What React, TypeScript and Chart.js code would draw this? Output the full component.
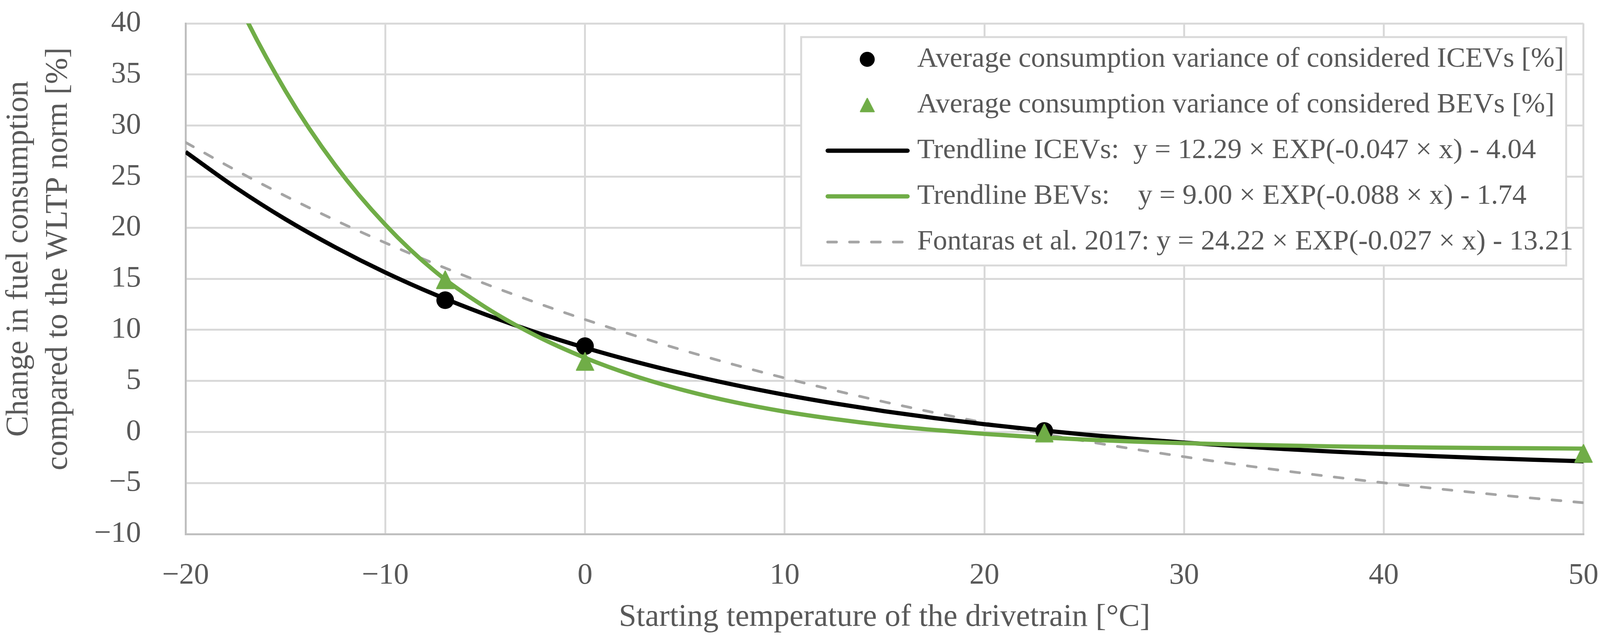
import React, { useEffect, useRef } from "react";
import { Chart, registerables } from "chart.js";

Chart.register(...registerables);

// axis ticks
const xTicks = [-20, -10, 0, 10, 20, 30, 40, 50];
const yTicks = [-10, -5, 0, 5, 10, 15, 20, 25, 30, 35, 40];

// measured averages
const icevTemps = [-7.0, 0.0, 23.0];
const icevVariance = [12.9, 8.4, 0.1];
const bevTemps = [-7.0, 0.0, 23.0, 50.0];
const bevVariance = [14.9, 6.9, -0.1, -2.1];

// trendlines, every 2.5 °C
const trendTemps = [
  -20, -17.5, -15, -12.5, -10, -7.5, -5, -2.5, 0, 2.5, 5, 7.5, 10, 12.5, 15,
  17.5, 20, 22.5, 25, 27.5, 30, 32.5, 35, 37.5, 40, 42.5, 45, 47.5, 50,
];
const icevTrend = [
  27.42, 23.94, 20.83, 18.08, 15.62, 13.44, 11.51, 9.78, 8.25, 6.89, 5.68, 4.6,
  3.64, 2.79, 2.03, 1.36, 0.76, 0.23, -0.25, -0.67, -1.04, -1.37, -1.67, -1.93,
  -2.16, -2.37, -2.56, -2.72, -2.87,
];
const bevTrend = [
  54.3, 42.6, 33.4, 26.1, 20.3, 15.7, 12.23, 9.47, 7.26, 5.48, 4.06, 2.91, 1.99,
  1.26, 0.66, 0.19, -0.19, -0.5, -0.74, -0.94, -1.1, -1.22, -1.33, -1.41, -1.47,
  -1.53, -1.57, -1.6, -1.63,
];
const fontarasTrend = [
  28.35, 25.64, 23.1, 20.73, 18.52, 16.45, 14.51, 12.7, 11.01, 9.43, 7.95, 6.57,
  5.28, 4.07, 2.94, 1.89, 0.9, -0.02, -0.88, -1.68, -2.43, -3.14, -3.8, -4.41,
  -4.98, -5.52, -6.02, -6.49, -6.93,
];

const seriesLabels = [
  "Average consumption variance of considered ICEVs [%]",
  "Average consumption variance of considered BEVs [%]",
  "Trendline ICEVs:  y = 12.29 \u00d7 EXP(-0.047 \u00d7 x) - 4.04",
  "Trendline BEVs:    y = 9.00 \u00d7 EXP(-0.088 \u00d7 x) - 1.74",
  "Fontaras et al. 2017: y = 24.22 \u00d7 EXP(-0.027 \u00d7 x) - 13.21",
];

const xTitle = "Starting temperature of the drivetrain [\u00b0C]";
const yTitle = ["Change in fuel consumption", "compared to the WLTP norm [%]"];

const FONT = '"Liberation Serif", "Times New Roman", serif';
const TEXT = "#595959";
const GREEN = "#70ad47";

// reference picture size and where its plot area sits
const REF_W = 4164;
const REF_H = 1647;
const AREA = { left: 483, top: 60, right: 4121, bottom: 1368 };

const fmt = (v: number) => (v < 0 ? "\u2212" + Math.abs(v) : String(v));

function makeTriangle(w: number, h: number, color: string, k: number) {
  const c = document.createElement("canvas");
  c.width = Math.round(w);
  c.height = Math.round(h);
  const ctx = c.getContext("2d")!;
  const p = 2 * k;
  ctx.fillStyle = color;
  ctx.strokeStyle = color;
  ctx.lineWidth = 3 * k;
  ctx.lineJoin = "round";
  ctx.beginPath();
  ctx.moveTo(c.width / 2, p);
  ctx.lineTo(c.width - p, c.height - p);
  ctx.lineTo(p, c.height - p);
  ctx.closePath();
  ctx.fill();
  ctx.stroke();
  return c;
}

const App: React.FC = () => {
  const chartRef = useRef<HTMLCanvasElement | null>(null);
  const chartInstance = useRef<Chart | null>(null);

  useEffect(() => {
    if (!chartRef.current) return;
    if (chartInstance.current) chartInstance.current.destroy();
    const ctx = chartRef.current.getContext("2d");
    if (!ctx) return;

    // the window may be narrower than the reference, so scale the layout to it
    const holder = chartRef.current.parentElement!;
    const kx = holder.clientWidth / REF_W;
    const ky = holder.clientHeight / REF_H;
    const k = kx;

    const plotTriangle = makeTriangle(49 * k, 50 * k, GREEN, k);
    const legendTriangle = makeTriangle(40 * k, 39 * k, GREEN, k);

    const toPoints = (xs: number[], ys: number[]) =>
      xs.map((x, i) => ({ x, y: ys[i] }));

    const border = { color: "#bfbfbf", width: 5 * k };
    const padding = {
      top: AREA.top * ky,
      right: (REF_W - AREA.right) * kx,
      bottom: 0,
      left: 0,
    };

    const yTitlePlugin = {
      id: "yTitleLines",
      afterDraw(chart: any) {
        const c = chart.ctx;
        const a = chart.chartArea;
        const cy = (a.top + a.bottom) / 2 - 51 * ky;
        c.save();
        c.font = `${82 * k}px ${FONT}`;
        c.fillStyle = TEXT;
        c.textAlign = "center";
        c.textBaseline = "middle";
        yTitle.forEach((line, i) => {
          c.save();
          c.translate((50 + i * 102) * kx, cy);
          c.rotate(-Math.PI / 2);
          c.fillText(line, 0, 0);
          c.restore();
        });
        c.restore();
      },
    };

    const legendBoxPlugin = {
      id: "legendBox",
      afterDraw(chart: any) {
        const c = chart.ctx;
        const a = chart.chartArea;
        const datasets = chart.data.datasets;
        const w = 1991 * kx;
        const rowH = 117 * ky;
        const left = a.right - 45 * kx - w;
        const top = a.top + 35 * ky;
        const h = rowH * datasets.length;
        c.save();
        c.fillStyle = "#ffffff";
        c.fillRect(left, top, w, h);
        c.strokeStyle = "#d9d9d9";
        c.lineWidth = 5 * k;
        c.strokeRect(left, top, w, h);
        datasets.forEach((ds: any, i: number) => {
          const y = top + 57 * ky + i * rowH;
          const mx = left + 172 * kx;
          if (ds.showLine) {
            c.beginPath();
            c.lineCap = "round";
            c.strokeStyle = ds.borderColor;
            c.lineWidth = ds.borderWidth;
            c.setLineDash(ds.borderDash || []);
            c.moveTo(left + 69 * kx, y);
            c.lineTo(left + 277 * kx, y);
            c.stroke();
            c.setLineDash([]);
          } else if (ds.legendMarker === "circle") {
            c.beginPath();
            c.fillStyle = ds.backgroundColor;
            c.arc(mx, y, 19.5 * k, 0, Math.PI * 2);
            c.fill();
          } else if (ds.legendMarker) {
            const m = ds.legendMarker;
            c.drawImage(m, mx - m.width / 2, y - m.height / 2);
          }
          c.fillStyle = TEXT;
          c.font = `${74 * k}px ${FONT}`;
          c.textAlign = "left";
          c.textBaseline = "middle";
          c.fillText(ds.label, left + 302 * kx, y);
        });
        c.restore();
      },
    };

    chartInstance.current = new Chart(ctx, {
      type: "scatter",
      data: {
        datasets: [
          {
            label: seriesLabels[0],
            data: toPoints(icevTemps, icevVariance),
            showLine: false,
            pointStyle: "circle",
            pointRadius: 23 * k,
            borderWidth: 0,
            backgroundColor: "#000000",
            borderColor: "#000000",
            clip: false,
            order: 1,
            legendMarker: "circle",
          },
          {
            label: seriesLabels[1],
            data: toPoints(bevTemps, bevVariance),
            showLine: false,
            pointStyle: plotTriangle,
            pointRadius: 24 * k,
            backgroundColor: GREEN,
            borderColor: GREEN,
            clip: false,
            order: 0,
            legendMarker: legendTriangle,
          },
          {
            label: seriesLabels[2],
            data: toPoints(trendTemps, icevTrend),
            showLine: true,
            borderColor: "#000000",
            borderWidth: 11 * k,
            pointRadius: 0,
            cubicInterpolationMode: "monotone",
            order: 3,
          },
          {
            label: seriesLabels[3],
            data: toPoints(trendTemps, bevTrend),
            showLine: true,
            borderColor: GREEN,
            borderWidth: 11 * k,
            pointRadius: 0,
            cubicInterpolationMode: "monotone",
            order: 2,
          },
          {
            label: seriesLabels[4],
            data: toPoints(trendTemps, fontarasTrend),
            showLine: true,
            borderColor: "#a5a5a5",
            borderWidth: 7 * k,
            borderDash: [23 * k, 34 * k],
            borderCapStyle: "round",
            pointRadius: 0,
            cubicInterpolationMode: "monotone",
            order: 4,
          },
        ] as any,
      },
      options: {
        animation: false,
        responsive: true,
        maintainAspectRatio: false,
        events: [],
        layout: { padding },
        plugins: {
          legend: { display: false },
          tooltip: { enabled: false },
        },
        scales: {
          x: {
            type: "linear",
            min: -20,
            max: 50,
            afterBuildTicks: (s: any) => {
              s.ticks = xTicks.map((v) => ({ value: v }));
            },
            afterFit: (s: any) => {
              s.height = s.chart.height - AREA.bottom * ky;
            },
            ticks: {
              padding: 3 * ky,
              color: TEXT,
              font: { family: FONT, size: 78 * k },
              callback: (v: any) => fmt(Number(v)),
            },
            grid: {
              color: "#d9d9d9",
              lineWidth: 5 * k,
              drawTicks: true,
              tickLength: 58 * ky,
              tickColor: "rgba(0,0,0,0)",
            },
            border,
            title: {
              display: true,
              text: xTitle,
              color: TEXT,
              font: { family: FONT, size: 82 * k, lineHeight: 1.2 },
              padding: { top: 0, bottom: 17 * ky },
            },
          },
          y: {
            type: "linear",
            min: -10,
            max: 40,
            afterBuildTicks: (s: any) => {
              s.ticks = yTicks.map((v) => ({ value: v }));
            },
            afterFit: (s: any) => {
              s.width = AREA.left * kx;
            },
            ticks: {
              padding: 3 * kx,
              color: TEXT,
              font: { family: FONT, size: 78 * k },
              callback: (v: any) => fmt(Number(v)),
            },
            grid: {
              color: "#d9d9d9",
              lineWidth: 5 * k,
              drawTicks: true,
              tickLength: 113 * kx,
              tickColor: "rgba(0,0,0,0)",
            },
            border,
          },
        },
      } as any,
      plugins: [yTitlePlugin, legendBoxPlugin],
    });

    return () => {
      if (chartInstance.current) {
        chartInstance.current.destroy();
        chartInstance.current = null;
      }
    };
  }, []);

  return (
    <div
      style={{
        position: "fixed",
        left: 0,
        top: 0,
        width: "100vw",
        height: "100vh",
        background: "#ffffff",
      }}
    >
      <canvas ref={chartRef} />
    </div>
  );
};

export default App;
